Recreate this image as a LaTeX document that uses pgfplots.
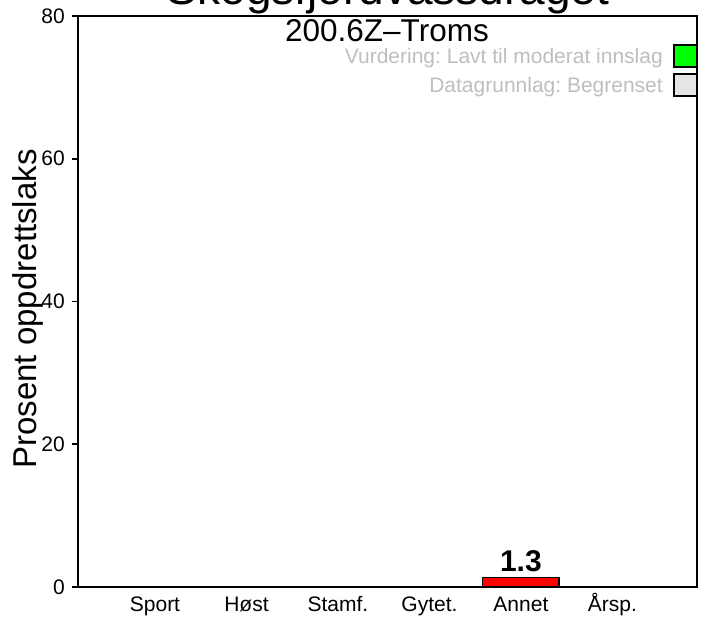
\documentclass[border=0pt]{standalone}
\usepackage{fontspec}
\setmainfont{Liberation Sans}
\usepackage{pgfplots}
\pgfplotsset{compat=1.18}
\frenchspacing
\definecolor{lgray}{RGB}{190,190,190}
\definecolor{boxgray}{RGB}{229,229,229}
\definecolor{vgreen}{RGB}{0,255,0}
\begin{document}
\frenchspacing
\begin{tikzpicture}
\begin{axis}[
  scale only axis,
  width=619pt, height=571pt,
  xmin=-0.31, xmax=7.81,
  ymin=0, ymax=80,
  axis line style={line width=1.6pt},
  /pgf/number format/assume math mode=true,
  ytick={0,20,40,60,80},
  ytick pos=left,
  tick align=outside,
  major tick length=6pt,
  ytick style={line width=1.6pt, black},
  yticklabel style={anchor=east, inner sep=0pt, xshift=-7pt, font=\fontsize{21}{21}\selectfont},
  xtick={0.7,1.9,3.1,4.3,5.5,6.7},
  xticklabels={Sport,Høst,Stamf.,Gytet.,Annet,Årsp.},
  xtick style={draw=none},
  xticklabel style={anchor=base, inner sep=0pt, yshift=-19pt, font=\fontsize{21}{21}\selectfont},
  ybar, bar width=76.25pt,
  nodes near coords,
  every node near coord/.append style={font=\bfseries\fontsize{30}{30}\selectfont, inner sep=0pt, anchor=south, yshift=5pt},
]
\addplot[fill=red, draw=black, line width=1.2pt] coordinates {(5.5,1.3)};
\end{axis}
% titles
\node[anchor=base, font=\fontsize{46}{46}\selectfont, inner sep=0pt] at (310pt,582pt) {Skogsfjordvassdraget};
\node[anchor=base, font=\fontsize{31.5}{31.5}\selectfont, inner sep=0pt] at (309pt,545pt) {200.6Z–Troms};
\node[anchor=base, rotate=90, font=\fontsize{33}{33}\selectfont, inner sep=0pt] at (-41pt,278pt) {Prosent oppdrettslaks};
% legend
\node[anchor=base east, font=\fontsize{21}{21}\selectfont, text=lgray, inner sep=0pt] at (585pt,523.5pt) {Vurdering: Lavt til moderat innslag};
\node[anchor=base east, font=\fontsize{21}{21}\selectfont, text=lgray, inner sep=0pt] at (585pt,494.5pt) {Datagrunnlag: Begrenset};
\draw[fill=vgreen, line width=1.4pt] (596pt,520pt) rectangle (619pt,542pt);
\draw[fill=boxgray, line width=1.4pt] (596pt,491pt) rectangle (619pt,513pt);
\pgfresetboundingbox
\path[use as bounding box] (-78pt,-33pt) rectangle (628pt,587pt);
\end{tikzpicture}
\end{document}
